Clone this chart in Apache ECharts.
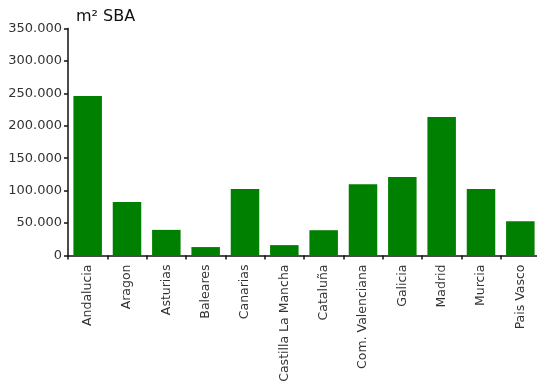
<!DOCTYPE html>
<html>
<head>
<meta charset="utf-8">
<script src="https://cdn.jsdelivr.net/npm/echarts@6/dist/echarts.min.js"></script>
<style>html,body{margin:0;padding:0;background:#fff;}#c{width:537px;height:383px;}</style>
</head>
<body>
<div id="c"></div>
<script>
var categories = ['Andalucia','Aragon','Asturias','Baleares','Canarias','Castilla La Mancha','Cataluña','Com. Valenciana','Galicia','Madrid','Murcia','Pais Vasco'];
var values = [246000, 82500, 39500, 13000, 102500, 16000, 39000, 110000, 121000, 213500, 102500, 53000];
var yTicks = [0, 50000, 100000, 150000, 200000, 250000, 300000, 350000];

function fmt(v){ return String(v).replace(/\B(?=(\d{3})+(?!\d))/g, '.'); }

var chart = echarts.init(document.getElementById('c'), null, {renderer:'canvas'});
chart.setOption({
  animation: false,
  backgroundColor: '#fff',
  textStyle: {fontFamily: 'DejaVu Sans'},
  title: {
    text: 'm² SBA', left: 76, top: 9, padding: 0,
    textStyle: {fontFamily: 'DejaVu Sans', fontSize: 16, fontWeight: 'normal', color: '#111'}
  },
  grid: {left: 68, top: 28.5, width: 472, height: 227, containLabel: false, outerBoundsMode: 'none'},
  xAxis: {
    type: 'category', data: categories,
    axisLine: {lineStyle: {color: '#111', width: 1.5}},
    axisTick: {show: true, length: 4, alignWithLabel: false, lineStyle: {color: '#111', width: 1.5}},
    axisLabel: {rotate: 90, interval: 0, fontSize: 12.5, color: '#333', margin: 9, fontFamily: 'DejaVu Sans'},
    splitLine: {show: false}
  },
  yAxis: {
    type: 'value', min: yTicks[0], max: yTicks[yTicks.length-1], interval: 50000,
    axisLine: {show: true, lineStyle: {color: '#111', width: 1.5}},
    axisTick: {show: true, length: 4, lineStyle: {color: '#111', width: 1.5}},
    axisLabel: {fontSize: 13, color: '#333', margin: 6, formatter: fmt, fontFamily: 'DejaVu Sans'},
    splitLine: {show: false}
  },
  series: [{
    type: 'bar', data: values, barWidth: 28.5,
    itemStyle: {color: '#008000'}
  }]
});
</script>
</body>
</html>
